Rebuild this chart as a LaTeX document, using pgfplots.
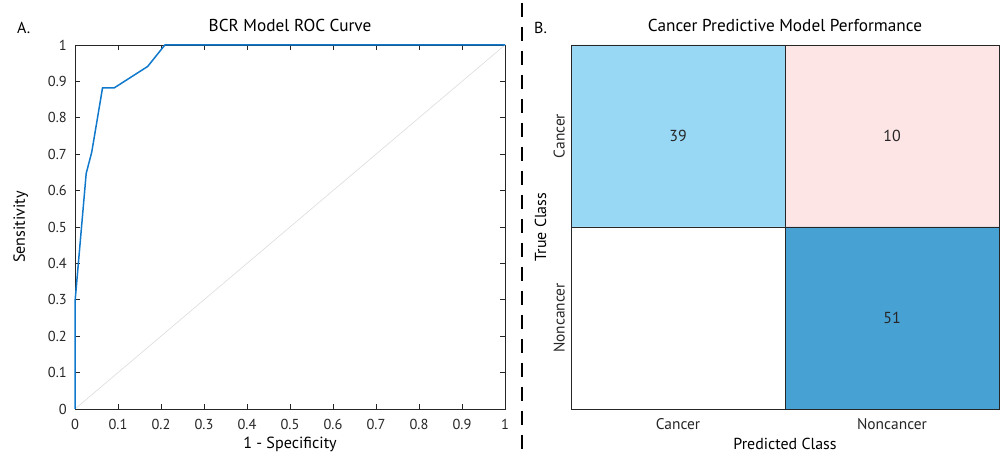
\documentclass[border=0pt]{standalone}
\usepackage{fontspec}
\setmainfont{PT Sans}
\usepackage{pgfplots}
\pgfplotsset{compat=1.18}
\definecolor{rocblue}{HTML}{1079CC}
\definecolor{axgray}{HTML}{262626}
\definecolor{diaggray}{HTML}{DCDCDC}
\definecolor{cellA}{HTML}{98D8F4}
\definecolor{cellB}{HTML}{FDE4E5}
\definecolor{cellD}{HTML}{48A1D3}
\newcommand{\fs}[1]{\fontsize{#1}{#1}\selectfont}
\begin{document}
\begin{tikzpicture}[x=1bp,y=1bp]
\useasboundingbox (0,0) rectangle (1001,455);
% ROC panel
\begin{axis}[
  at={(75bp,46bp)}, anchor=south west,
  scale only axis, width=430bp, height=364bp,
  xmin=0, xmax=1, ymin=0, ymax=1,
  xtick={0,0.1,0.2,0.3,0.4,0.5,0.6,0.7,0.8,0.9,1},
  xticklabels={0,0.1,0.2,0.3,0.4,0.5,0.6,0.7,0.8,0.9,1},
  ytick={0,0.1,0.2,0.3,0.4,0.5,0.6,0.7,0.8,0.9,1},
  yticklabels={0,0.1,0.2,0.3,0.4,0.5,0.6,0.7,0.8,0.9,1},
  tick align=inside, major tick length=5bp,
  axis line style={color=axgray, line width=0.8bp},
  every tick/.style={color=axgray, line width=0.8bp},
  tick label style={font=\fs{14.5}, text=axgray},
  xticklabel style={anchor=base, inner sep=0pt, yshift=-21bp},
  yticklabel style={anchor=east, inner sep=0pt, xshift=-8bp},
  title={BCR Model ROC Curve},
  title style={font=\fs{17.3}, at={(axis description cs:0.5,1)}, anchor=base, yshift=8bp, inner sep=0pt},
  xlabel={1 - Specificity},
  xlabel style={font=\fs{16.2}, at={(axis description cs:0.5,0)}, anchor=base, yshift=-40bp, inner sep=0pt},
  ylabel={Sensitivity},
  ylabel style={font=\fs{16.2}, at={(axis description cs:-0.1163,0.5)}, anchor=base, inner sep=0pt},
  clip=false,
]
\addplot[diaggray, line width=0.6bp] coordinates {(0,0) (1,1)};
\addplot[rocblue, line width=1.5bp] coordinates {
 (0,0) (0,0.294) (0.026,0.647) (0.039,0.706) (0.064,0.882) (0.091,0.882) (0.169,0.941) (0.209,1) (1,1)};
\end{axis}
% Confusion matrix panel
\begin{axis}[
  at={(571bp,46bp)}, anchor=south west,
  scale only axis, width=428bp, height=364bp,
  xmin=0.5, xmax=2.5, ymin=0.5, ymax=2.5, y dir=reverse,
  xtick={1,2}, xticklabels={Cancer,Noncancer},
  ytick={1,2}, yticklabels={Cancer,Noncancer},
  major tick length=0pt,
  axis line style={color=axgray, line width=0.8bp},
  tick label style={font=\fs{15.5}, text=axgray},
  xticklabel style={anchor=base, inner sep=0pt, yshift=-21bp},
  yticklabel style={rotate=90, anchor=south, inner xsep=0pt, inner ysep=6bp},
  title={Cancer Predictive Model Performance},
  title style={font=\fs{17.3}, at={(axis description cs:0.5,1)}, anchor=base, yshift=8bp, inner sep=0pt},
  xlabel={Predicted Class},
  xlabel style={font=\fs{16}, at={(axis description cs:0.5,0)}, anchor=base, yshift=-41bp, inner sep=0pt},
  ylabel={True Class},
  ylabel style={font=\fs{16}, at={(axis description cs:-0.0584,0.5)}, anchor=base, inner sep=0pt},
  clip=false,
  axis on top,
]
\addplot[fill=cellA, draw=axgray, line width=0.8bp] coordinates {(0.5,0.5) (1.5,0.5) (1.5,1.5) (0.5,1.5) (0.5,0.5)};
\addplot[fill=cellB, draw=axgray, line width=0.8bp] coordinates {(1.5,0.5) (2.5,0.5) (2.5,1.5) (1.5,1.5) (1.5,0.5)};
\addplot[fill=white, draw=axgray, line width=0.8bp] coordinates {(0.5,1.5) (1.5,1.5) (1.5,2.5) (0.5,2.5) (0.5,1.5)};
\addplot[fill=cellD, draw=axgray, line width=0.8bp] coordinates {(1.5,1.5) (2.5,1.5) (2.5,2.5) (1.5,2.5) (1.5,1.5)};
\addplot[only marks, mark=none, point meta=explicit symbolic,
  nodes near coords, nodes near coords align={center},
  every node near coord/.append style={font=\fs{16}, text=axgray, anchor=center}]
  coordinates {(1,1) [39] (2,1) [10] (2,2) [51]};
\end{axis}
% panel letters and separator
\node[anchor=base west, inner sep=0pt, font=\fs{16}] at (17,421) {A.};
\node[anchor=base west, inner sep=0pt, font=\fs{16}] at (534,421) {B.};
\draw[black, line width=1.5bp, dash pattern=on 14bp off 10bp] (522,452) -- (522,0);
\end{tikzpicture}
\end{document}
